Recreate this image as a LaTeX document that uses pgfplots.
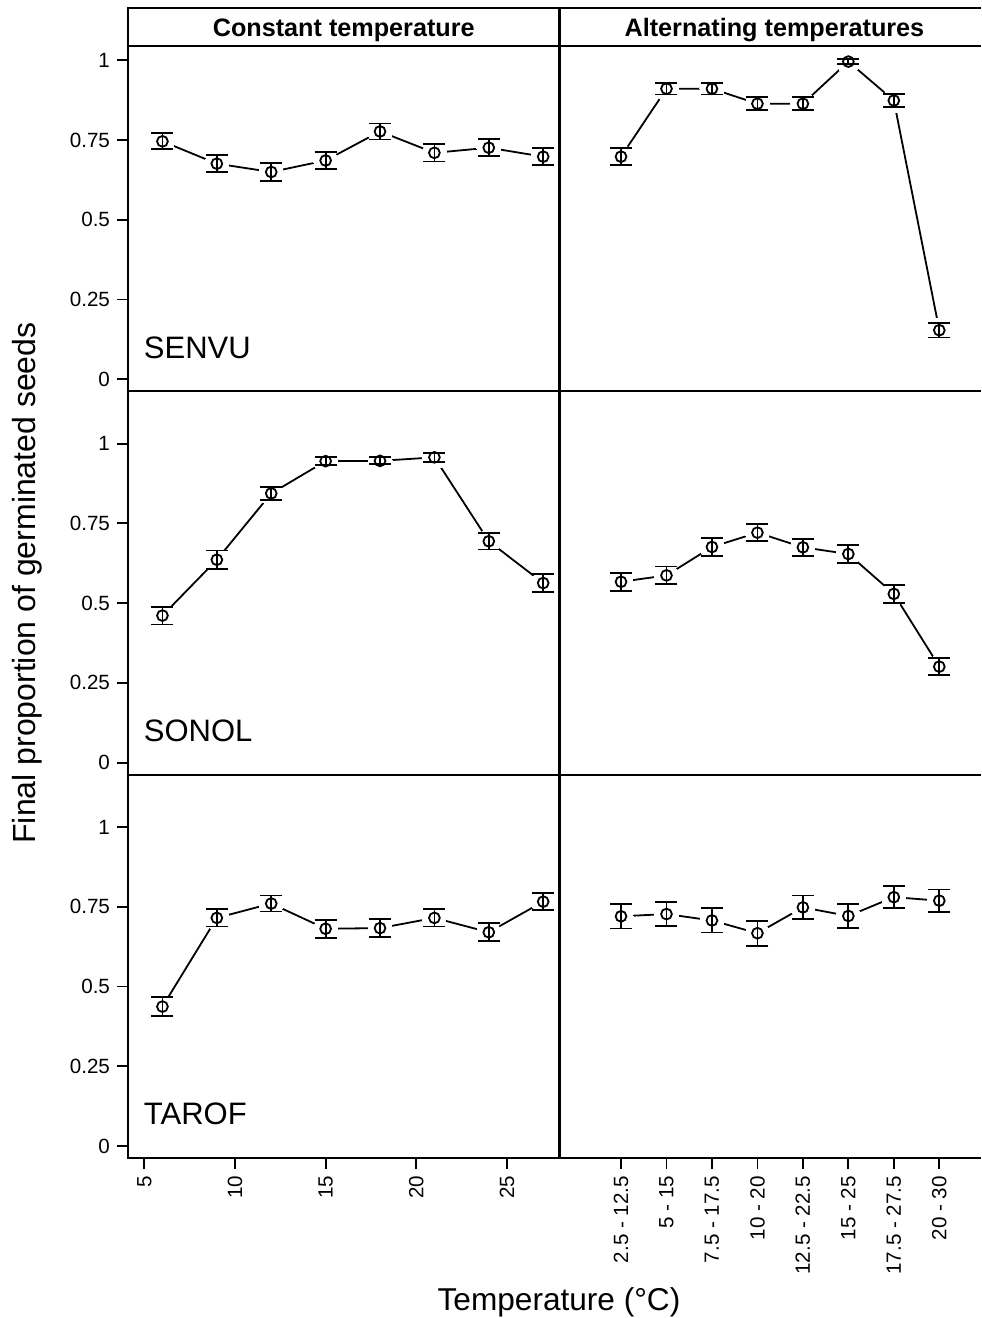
\documentclass[border=0pt]{standalone}
\usepackage{pgfplots}
\pgfplotsset{compat=1.18}
\usepackage{pgfplotstable}
\usepackage{fontspec}
\setmainfont{Liberation Sans}

\pgfplotstableread{
x y e
6 0.746 0.025
9 0.676 0.027
12 0.650 0.028
15 0.686 0.027
18 0.777 0.025
21 0.710 0.027
24 0.726 0.027
27 0.698 0.027
}\senvuC
\pgfplotstableread{
x y e
0 0.698 0.026
1 0.911 0.018
2 0.911 0.018
3 0.864 0.021
4 0.864 0.021
5 0.996 0.008
6 0.874 0.020
7 0.154 0.023
}\senvuA
\pgfplotstableread{
x y e
6 0.461 0.028
9 0.636 0.029
12 0.844 0.020
15 0.945 0.013
18 0.946 0.011
21 0.957 0.014
24 0.694 0.026
27 0.563 0.029
}\sonolC
\pgfplotstableread{
x y e
0 0.567 0.028
1 0.587 0.028
2 0.676 0.027
3 0.721 0.026
4 0.675 0.027
5 0.654 0.028
6 0.529 0.028
7 0.301 0.027
}\sonolA
\pgfplotstableread{
x y e
6 0.437 0.029
9 0.715 0.027
12 0.760 0.025
15 0.681 0.028
18 0.683 0.028
21 0.715 0.027
24 0.670 0.028
27 0.766 0.026
}\tarofC
\pgfplotstableread{
x y e
0 0.720 0.038
1 0.727 0.038
2 0.707 0.038
3 0.667 0.039
4 0.748 0.037
5 0.721 0.037
6 0.780 0.035
7 0.769 0.035
}\tarofA

\newcommand{\panelplots}[1]{%
  \addplot[black, line width=0.9pt, no marks] table[x=x,y=y] {#1};
  \addplot[white, only marks, mark=*, mark size=6pt, mark options={fill=white, draw=white, line width=0pt}] table[x=x,y=y] {#1};
  \addplot[only marks, black, mark=o, mark size=2.7pt, mark options={line width=0.9pt, black},
    error bars/.cd, y dir=both, y explicit, error mark=-,
    error mark options={rotate=90, mark size=5.5pt, line width=0.9pt, black},
    error bar style={line width=0.9pt, black}] table[x=x,y=y,y error=e] {#1};
}

\pgfplotsset{
  panel/.style={scale only axis, height=191.67pt, ymin=-0.0376, ymax=1.164,
    axis line style={line width=1.1pt, black}, clip marker paths=true,
    tick align=outside, major tick length=5.5pt,
    tick style={line width=0.9pt, black},
    every tick label/.append style={font=\fontsize{10.3}{12}\selectfont},
    /pgf/number format/assume math mode=true,
    xticklabel style={rotate=90, anchor=east},
    anchor=south west},
  leftcol/.style={panel, width=215.75pt, xmin=4.1, xmax=27.9,
    ytick={0,0.25,0.5,0.75,1}, yticklabels={0,0.25,0.5,0.75,1},
    tick pos=left},
  rightcol/.style={panel, width=210.75pt, xmin=-1.353, xmax=7.917,
    ytick=\empty, axis x line*=box, axis y line*=left, xtick pos=bottom},
}

\begin{document}
\begin{tikzpicture}
% Row 1
\begin{axis}[leftcol, at={(64pt,463.33pt)}, xtick=\empty]
  \panelplots{\senvuC}
  \draw[line width=1.1pt] (rel axis cs:0,0.9008) -- (rel axis cs:1,0.9008);
  \node[anchor=base, font=\bfseries\fontsize{12.6}{14}\selectfont] at (rel axis cs:0.5,0.925) {Constant temperature};
  \node[anchor=base west, inner sep=0pt, font=\fontsize{15.5}{18}\selectfont] at (rel axis cs:0.036,0.0861) {SENVU};
\end{axis}
\begin{axis}[rightcol, at={(279.75pt,463.33pt)}, xtick=\empty]
  \panelplots{\senvuA}
  \draw[line width=1.1pt] (rel axis cs:0,0.9008) -- (rel axis cs:1,0.9008);
  \node[anchor=base, font=\bfseries\fontsize{12.6}{14}\selectfont] at (rel axis cs:0.510,0.925) {Alternating temperatures};
\end{axis}
% Row 2
\begin{axis}[leftcol, at={(64pt,271.67pt)}, xtick=\empty]
  \panelplots{\sonolC}
  \node[anchor=base west, inner sep=0pt, font=\fontsize{15.5}{18}\selectfont] at (rel axis cs:0.036,0.0861) {SONOL};
\end{axis}
\begin{axis}[rightcol, at={(279.75pt,271.67pt)}, xtick=\empty]
  \panelplots{\sonolA}
\end{axis}
% Row 3
\begin{axis}[leftcol, at={(64pt,80pt)}, xtick={5,10,15,20,25}, xticklabels={5,10,15,20,25}]
  \panelplots{\tarofC}
  \node[anchor=base west, inner sep=0pt, font=\fontsize{15.5}{18}\selectfont] at (rel axis cs:0.036,0.0861) {TAROF};
\end{axis}
\begin{axis}[rightcol, at={(279.75pt,80pt)}, xtick={0,1,2,3,4,5,6,7},
  xticklabels={2.5 - 12.5, 5 - 15, 7.5 - 17.5, 10 - 20, 12.5 - 22.5, 15 - 25, 17.5 - 27.5, 20 - 30}]
  \panelplots{\tarofA}
\end{axis}
\node[rotate=90, anchor=base, font=\fontsize{16}{18}\selectfont] at (17.5pt,367.5pt) {Final proportion of germinated seeds};
\node[anchor=base, font=\fontsize{15.8}{18}\selectfont] at (279.5pt,4pt) {Temperature (°C)};
\pgfresetboundingbox
\useasboundingbox (0,0) rectangle (490.5pt,659pt);
\end{tikzpicture}
\end{document}
